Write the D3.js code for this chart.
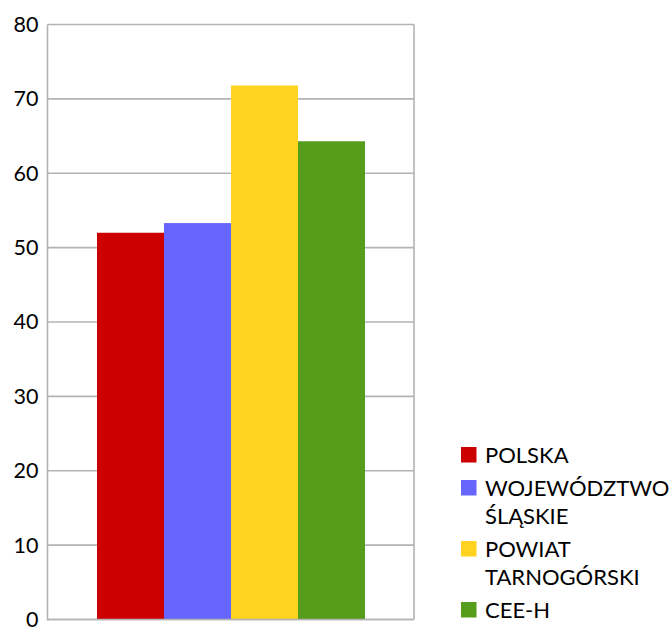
<!DOCTYPE html>
<html><head><meta charset="utf-8">
<script src="https://cdn.jsdelivr.net/npm/d3@7"></script>
<style>body{margin:0;background:#fff}svg{display:block}text{font-family:Lato,"Open Sans",sans-serif;fill:#000}</style>
</head><body>
<svg id="c" width="670" height="628"></svg>
<script>
const series = ["POLSKA", "WOJEWÓDZTWO ŚLĄSKIE", "POWIAT TARNOGÓRSKI", "CEE-H"];
const legendLines = [["POLSKA"], ["WOJEWÓDZTWO", "ŚLĄSKIE"], ["POWIAT", "TARNOGÓRSKI"], ["CEE-H"]];
const values = [52.0, 53.3, 71.8, 64.3];
const colors = ["#cc0000", "#6666ff", "#ffd320", "#579d1c"];
const yTicks = [0, 10, 20, 30, 40, 50, 60, 70, 80];

const svg = d3.select("#c");
const L = 47.5, R = 414, T = 24.5, B = 619.5;
const y = d3.scaleLinear().domain([0, 80]).range([B, T]);
const x = d3.scaleBand().domain(series).range([L + 49.5, R - 49]).padding(0);

// gridlines
svg.append("g").selectAll("line").data(yTicks).join("line")
  .attr("x1", L).attr("x2", R).attr("y1", d => y(d)).attr("y2", d => y(d))
  .attr("stroke", "#b3b3b3").attr("stroke-width", 1.6);
// frame
svg.append("line").attr("x1", R).attr("x2", R).attr("y1", T).attr("y2", B).attr("stroke", "#b3b3b3").attr("stroke-width", 1.6);

// bars
svg.append("g").selectAll("rect").data(values).join("rect")
  .attr("x", (d, i) => x(series[i])).attr("width", x.bandwidth())
  .attr("y", d => y(d)).attr("height", d => B - y(d))
  .attr("fill", (d, i) => colors[i]);

svg.append("line").attr("x1", L).attr("x2", L).attr("y1", T).attr("y2", B + 1).attr("stroke", "#b3b3b3").attr("stroke-width", 1.6);
svg.append("line").attr("x1", L).attr("x2", R).attr("y1", B).attr("y2", B).attr("stroke", "#b3b3b3").attr("stroke-width", 1.6);

// y axis labels
const yAxis = d3.axisLeft(y).tickValues(yTicks).tickSize(0).tickPadding(9);
const ga = svg.append("g").attr("transform", `translate(${L},0)`).call(yAxis);
ga.select(".domain").remove();
ga.selectAll("text").style("font-size", "21.5px").style("font-family", "Lato,'Open Sans',sans-serif").attr("fill", "#000");

// legend
const lg = svg.append("g");
let baseY = 463;
legendLines.forEach((lines, i) => {
  lg.append("rect").attr("x", 461).attr("y", baseY - 16).attr("width", 15.5).attr("height", 15.5).attr("fill", colors[i]);
  lines.forEach((t, j) => {
    lg.append("text").attr("x", 485).attr("y", baseY + j * 28).style("font-size", "22px").text(t);
  });
  baseY += (lines.length - 1) * 28 + 33;
});
</script>
</body></html>
